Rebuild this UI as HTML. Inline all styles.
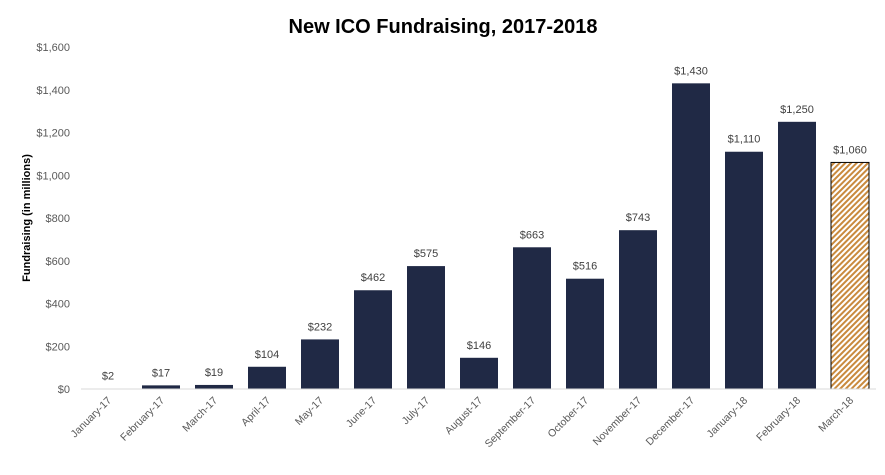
<!DOCTYPE html>
<html><head><meta charset="utf-8"><style>
body{margin:0;background:#fff;width:885px;height:470px;overflow:hidden}
svg text{font-family:"Liberation Sans",sans-serif}
</style></head><body>
<svg id="chart" width="885" height="470">
<defs>
<pattern id="hatch" width="4" height="4" patternUnits="userSpaceOnUse" patternTransform="rotate(45)">
<rect width="4" height="4" fill="#fff"/><rect width="2" height="4" fill="#c98a3e"/>
</pattern>
</defs>
<text x="443" y="33" text-anchor="middle" font-size="20" font-weight="bold" fill="#000">New ICO Fundraising, 2017-2018</text>
<text transform="translate(30,218) rotate(-90)" text-anchor="middle" font-size="11" font-weight="bold" fill="#000">Fundraising (in millions)</text>
<g id="yaxis"></g><g id="bars"></g><g id="xaxis"></g>
</svg>
<script>
const categories=["January-17","February-17","March-17","April-17","May-17","June-17","July-17","August-17","September-17","October-17","November-17","December-17","January-18","February-18","March-18"];
const values=[2,17,19,104,232,462,575,146,663,516,743,1430,1110,1250,1060];
const valueLabels=["$2","$17","$19","$104","$232","$462","$575","$146","$663","$516","$743","$1,430","$1,110","$1,250","$1,060"];
const yTicks=[0,200,400,600,800,1000,1200,1400,1600];
const yTickLabels=["$0","$200","$400","$600","$800","$1,000","$1,200","$1,400","$1,600"];
const NS="http://www.w3.org/2000/svg";
const y=v=>389-v*342/1600;
const x=i=>108+i*53;
function mk(t,a,p){const e=document.createElementNS(NS,t);for(const k in a)e.setAttribute(k,a[k]);p.appendChild(e);return e;}
const ya=document.getElementById('yaxis');
yTicks.forEach((v,i)=>{const t=mk('text',{x:70,y:y(v)+4,'text-anchor':'end','font-size':11,fill:'#595959'},ya);t.textContent=yTickLabels[i];

});
const bg=document.getElementById('bars');
values.forEach((v,i)=>{const last=i===values.length-1;
const r=mk('rect',{x:x(i)-19,y:y(v),width:38,height:389-y(v),fill:last?'url(#hatch)':'#202945',stroke:last?'#000':'none','stroke-width':1},bg);


const t=mk('text',{x:x(i),y:y(v)-9,'text-anchor':'middle','font-size':11,fill:'#404040'},bg);t.textContent=valueLabels[i];

});
const xa=document.getElementById('xaxis');
const ax=mk('line',{x1:81,x2:876,y1:389,y2:389,stroke:'#d9d9d9','stroke-width':1},xa);


categories.forEach((c,i)=>{const t=mk('text',{transform:`translate(${x(i)+4},${401}) rotate(-45)`,'text-anchor':'end','font-size':10.5,fill:'#595959'},xa);t.textContent=c;

});
</script>
</body></html>
